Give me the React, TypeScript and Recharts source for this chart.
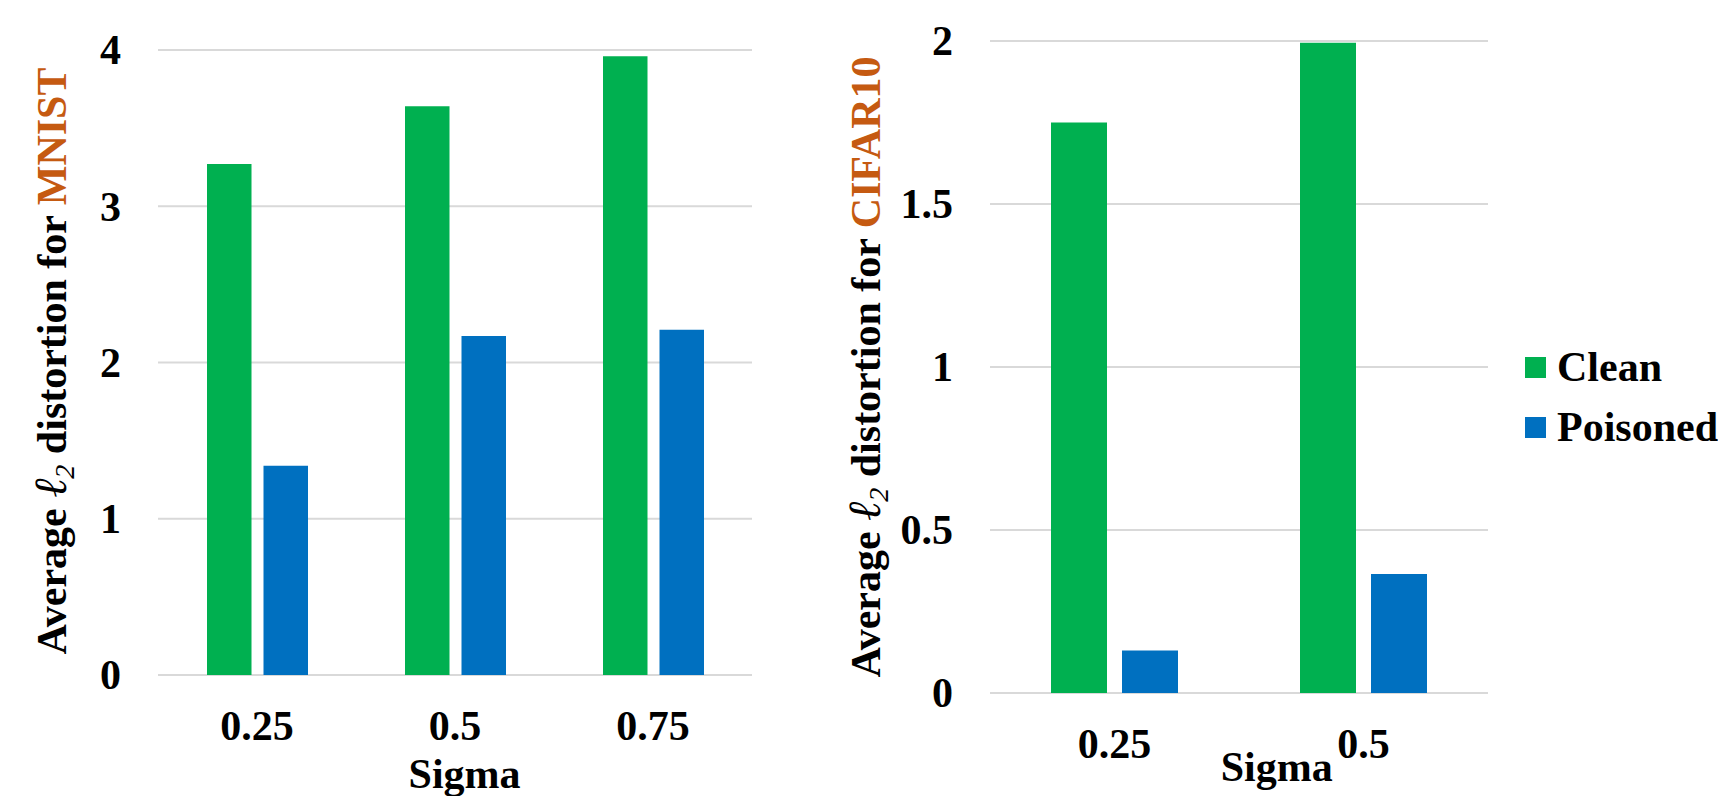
import { BarChart, Bar, XAxis, YAxis, CartesianGrid, Legend } from 'recharts'

const mnistSigma = ['0.25', '0.5', '0.75']
const mnistClean = [3.27, 3.64, 3.96]
const mnistPoisoned = [1.34, 2.17, 2.21]
const mnistTicks = [0, 1, 2, 3, 4]

const cifarSigma = ['0.25', '0.5']
const cifarClean = [1.75, 1.995]
const cifarPoisoned = [0.13, 0.365]
const cifarTicks = [0, 0.5, 1, 1.5, 2]

const GREEN = '#00B050'
const BLUE = '#0070C0'
const ORANGE = '#C55A11'
const GRID = '#D9D9D9'
const FONT = '"Liberation Serif", "Times New Roman", serif'

const toRows = (cats: string[], clean: number[], poisoned: number[]) =>
  cats.map((sigma, i) => ({ sigma, clean: clean[i], poisoned: poisoned[i] }))

const mnistData = toRows(mnistSigma, mnistClean, mnistPoisoned)
const cifarData = toRows(cifarSigma, cifarClean, cifarPoisoned)

function YTick({ x, y, payload }: any) {
  return (
    <text x={x - 37} y={y} dy="0.34em" textAnchor="end" fontFamily={FONT} fontWeight="bold" fontSize={42} fill="#000">
      {payload.value}
    </text>
  )
}

function XTick({ x, y, payload }: any) {
  return (
    <text x={x} y={y + 65} textAnchor="middle" fontFamily={FONT} fontWeight="bold" fontSize={42} fill="#000">
      {payload.value}
    </text>
  )
}

// rotated axis title with an italic l2 and the dataset name in orange
function YLabel({ x, y, name }: { x: number; y: number; name: string }) {
  return (
    <text
      x={x}
      y={y}
      transform={`rotate(-90, ${x}, ${y})`}
      textAnchor="middle"
      fontFamily={FONT}
      fontWeight="bold"
      fontSize={42}
      fill="#000"
    >
      <tspan>Average </tspan>
      <tspan fontStyle="italic" fontWeight="normal" fontSize={46}>ℓ</tspan>
      <tspan fontStyle="italic" fontWeight="normal" fontSize={28} dy={8}>2</tspan>
      <tspan dy={-8}> distortion for </tspan>
      <tspan fill={ORANGE}>{name}</tspan>
    </text>
  )
}

function SigmaLabel({ x, y }: { x: number; y: number }) {
  return (
    <text x={x} y={y} textAnchor="middle" fontFamily={FONT} fontWeight="bold" fontSize={42} fill="#000">
      Sigma
    </text>
  )
}

function LegendContent({ payload }: any) {
  return (
    <div>
      {(payload || []).map((p: any) => (
        <div key={p.value} style={{ display: 'flex', alignItems: 'center', height: 60 }}>
          <span style={{ width: 21, height: 21, background: p.color, marginRight: 11, flexShrink: 0 }} />
          <span style={{ fontFamily: FONT, fontWeight: 'bold', fontSize: 42, lineHeight: 1, whiteSpace: 'nowrap' }}>
            {p.value}
          </span>
        </div>
      ))}
    </div>
  )
}

export default function App() {
  return (
    <div style={{ position: 'absolute', left: 0, top: 0, width: 1718, height: 796, overflow: 'hidden', background: '#fff' }}>
      <div style={{ position: 'absolute', left: 0, top: 0 }}>
        <BarChart width={760} height={796} data={mnistData} margin={{ top: 50, right: 8, left: 0, bottom: 0 }} barGap={12}>
          <CartesianGrid vertical={false} stroke={GRID} strokeWidth={2} />
          <XAxis
            dataKey="sigma"
            height={121}
            axisLine={false}
            tickLine={false}
            tickSize={0}
            tickMargin={0}
            tick={<XTick />}
            label={{ content: () => <SigmaLabel x={464.6} y={788} /> }}
          />
          <YAxis
            width={158}
            domain={[0, 4]}
            ticks={mnistTicks}
            axisLine={false}
            tickLine={false}
            tickSize={0}
            tickMargin={0}
            tick={<YTick />}
            label={{ content: () => <YLabel x={66} y={361} name="MNIST" /> }}
          />
          <Bar dataKey="clean" name="Clean" fill={GREEN} barSize={44.5} isAnimationActive={false} />
          <Bar dataKey="poisoned" name="Poisoned" fill={BLUE} barSize={44.5} isAnimationActive={false} />
        </BarChart>
      </div>
      <div style={{ position: 'absolute', left: 840, top: 0 }}>
        <BarChart width={878} height={796} data={cifarData} margin={{ top: 41, right: 230, left: 0, bottom: 0 }} barGap={15}>
          <CartesianGrid vertical={false} stroke={GRID} strokeWidth={2} />
          <XAxis
            dataKey="sigma"
            height={103}
            axisLine={false}
            tickLine={false}
            tickSize={0}
            tickMargin={0}
            tick={<XTick />}
            label={{ content: () => <SigmaLabel x={436.7} y={781} /> }}
          />
          <YAxis
            width={150}
            domain={[0, 2]}
            ticks={cifarTicks}
            axisLine={false}
            tickLine={false}
            tickSize={0}
            tickMargin={0}
            tick={<YTick />}
            label={{ content: () => <YLabel x={40} y={367} name="CIFAR10" /> }}
          />
          <Legend
            layout="vertical"
            align="center"
            verticalAlign="middle"
            content={<LegendContent />}
            wrapperStyle={{ left: 685, top: 337, width: 260, height: 'auto' }}
          />
          <Bar dataKey="clean" name="Clean" fill={GREEN} barSize={56} isAnimationActive={false} />
          <Bar dataKey="poisoned" name="Poisoned" fill={BLUE} barSize={56} isAnimationActive={false} />
        </BarChart>
      </div>
    </div>
  )
}
